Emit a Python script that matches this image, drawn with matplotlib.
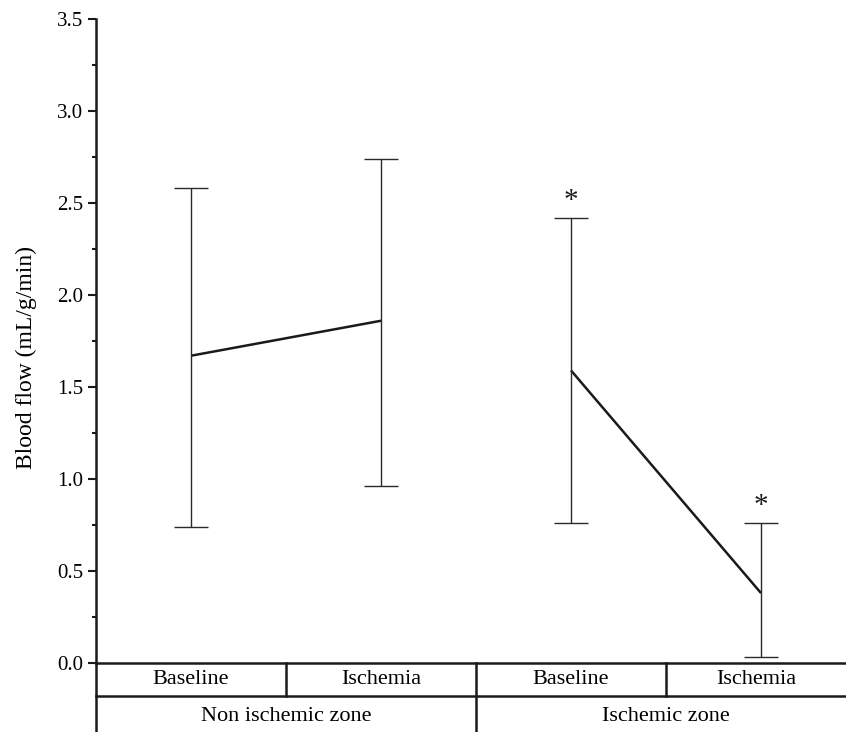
import matplotlib
matplotlib.use("Agg")
import matplotlib.pyplot as plt
from matplotlib.ticker import MultipleLocator

plt.rcParams['font.family'] = ['Liberation Serif', 'DejaVu Serif']

conditions = ["Baseline", "Ischemia", "Baseline", "Ischemia"]
zones = ["Non ischemic zone", "Ischemic zone"]
means = [1.67, 1.86, 1.59, 0.38]
upper = [2.58, 2.74, 2.42, 0.76]
lower = [0.74, 0.96, 0.76, 0.03]
significant = [False, False, True, True]
yticks = [0.0, 0.5, 1.0, 1.5, 2.0, 2.5, 3.0, 3.5]

W, H = 846, 732
fig = plt.figure(figsize=(W/100, H/100), dpi=100)
left = 96/W
bottom = 69/H
top = 19/H
ax = fig.add_axes([left, bottom, 1 - left, 1 - bottom - top])

xs = [i + 0.5 for i in range(len(means))]
xmax = 750/190

for zi in range(2):
    seg = slice(2*zi, 2*zi + 2)
    ax.plot(xs[seg], means[seg], color='#1a1a1a', lw=1.8, solid_capstyle='butt')

yerr = [[m - l for m, l in zip(means, lower)], [u - m for m, u in zip(means, upper)]]
ax.errorbar(xs, means, yerr=yerr, fmt='none', ecolor='#2a2a2a', elinewidth=1.0,
            capsize=12, capthick=1.0)

for x, u, s in zip(xs, upper, significant):
    if s:
        ax.text(x, u + 0.02, "*", ha='center', va='bottom', fontsize=21, color='#1a1a1a')

ax.set_yticks(yticks)
ax.set_yticklabels([f"{v:.1f}" for v in yticks])
ax.yaxis.set_minor_locator(MultipleLocator(0.25))
ax.set_xlim(0, xmax)
ax.set_ylim(0, 3.5)
ax.tick_params(axis='y', which='major', length=6, width=1.5, labelsize=15, direction='out', pad=3, color='#1a1a1a')
ax.tick_params(axis='y', which='minor', length=3, width=1.5, direction='out', color='#1a1a1a')
ax.set_xticks([])
for s in ['top', 'right']:
    ax.spines[s].set_visible(False)
ax.spines['left'].set_linewidth(1.8)
ax.spines['bottom'].set_linewidth(1.8)
ax.spines['left'].set_color('#1a1a1a')
ax.spines['bottom'].set_color('#1a1a1a')
ax.set_ylabel("Blood flow (mL/g/min)", fontsize=17)
ax.yaxis.set_label_coords(-0.079, 0.475)

# table below axis
tax = fig.add_axes([left, 0, 1 - left, bottom])
tax.set_xlim(0, xmax)
tax.set_ylim(0, 2)
tax.axis('off')
lc = '#1a1a1a'
tax.plot([0, xmax], [1.04, 1.04], color=lc, lw=1.8, clip_on=False)
tax.plot([0, 0], [0, 2], color=lc, lw=1.8, clip_on=False)
for i in range(1, 4):
    ymin = 0 if i == 2 else 1.04
    tax.plot([i, i], [ymin, 2], color=lc, lw=1.8, clip_on=False)
for x, c in zip(xs, conditions):
    tax.text(min(x, (3 + xmax)/2), 1.52, c, ha='center', va='center', fontsize=16)
for zi, z in enumerate(zones):
    tax.text(2*zi + 1, 0.45, z, ha='center', va='center', fontsize=16)

fig.savefig("out.png", dpi=100, facecolor='white')
